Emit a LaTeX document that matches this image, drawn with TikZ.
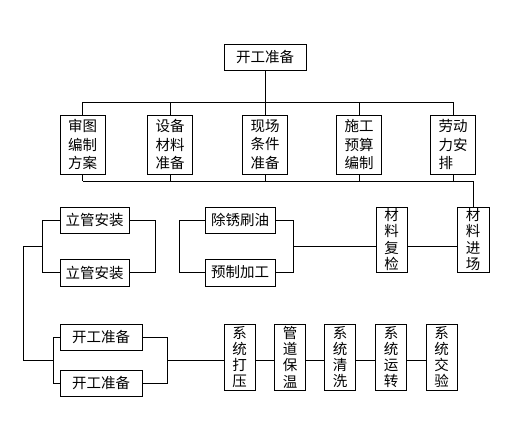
\documentclass[tikz,border=0pt]{standalone}
\usepackage{fontspec}
\newfontfamily\cjk{Noto Sans CJK SC}
\usepackage{tikz}
\usetikzlibrary{calc}
\tikzset{
	blk/.style={draw, line width=0.9pt, inner sep=0pt, align=center,
		font=\cjk\fontsize{14.5}{18.5}\selectfont},
	hbox/.style={blk, minimum height=26pt},
	tall/.style={blk, minimum width=45pt, minimum height=59pt, align=left},
	vbox/.style={blk, minimum width=31pt, minimum height=65pt,
		font=\cjk\fontsize{14.5}{16.3}\selectfont},
	ln/.style={line width=0.9pt},
}

\begin{document}
\begin{tikzpicture}[x=1pt, y=-1pt]
				\useasboundingbox (0,0) rectangle (513,428);
				% top
				\node[hbox, minimum width=82pt] at (265,57) (kg) {开工准备};
				\node[tall] at (82.5,144.5) (st) {审图\\编制\\方案};
				\node[tall] at (170,144.5) (sb) {设备\\材料\\准备};
				\node[tall] at (265,144.5) (xc) {现场\\条件\\准备};
				\node[tall] at (359,144.5) (sg) {施工\\预算\\编制};
				\node[tall] at (453,144.5) (ld) {劳动\\力安\\排};
				\coordinate (busT) at (0,102);
				\coordinate (busB) at (0,181);
				\draw[ln] (kg.south) -- (kg.south |- busT);
				\draw[ln] (st.north) -- (st.north |- busT) -- (ld.north |- busT) -- (ld.north);
				\foreach \n in {sb,xc,sg} \draw[ln] (\n.north) -- (\n.north |- busT);
				\foreach \n in {st,sb,xc,sg,ld} \draw[ln] (\n.south) -- (\n.south |- busB);
				% materials
				\node[vbox, minimum width=32pt] at (473,239.5) (jc) {材\\料\\进\\场};
				\node[vbox] at (391.5,239.5) (fj) {材\\料\\复\\检};
				\node[hbox, minimum width=70pt] at (240,220) (cx) {除锈刷油};
				\node[hbox, minimum width=70pt, minimum height=27pt] at (240,272.5) (yz) {预制加工};
				\node[hbox, minimum width=69pt] at (94.5,220) (lg1) {立管安装};
				\node[hbox, minimum width=69pt, minimum height=27pt] at (94.5,272.5) (lg2) {立管安装};
				\coordinate (mid3) at (0,246);
				\coordinate (rb3) at (293,246);
				\coordinate (lb3) at (42.7,246.7);
				\coordinate (lft) at (23.3,246.7);
				\draw[ln] (st.south |- busB) -- (jc.north |- busB) -- (jc.north);
				\draw[ln] (jc.west |- mid3) -- (fj.east |- mid3);
				\draw[ln] (fj.west |- mid3) -- (rb3);
				\draw[ln] (cx.east) -- ++(18,0) |- (yz.east);
				\draw[ln] (cx.west) -- ++(-25,0) |- (yz.west);
				\draw[ln] (lg1.east) -- ++(26,0) |- (lg2.east);
				\draw[ln] (lg1.west) -- ++(-17.3,0) |- (lg2.west);
				% system
				\node[hbox, minimum width=82pt] at (101,337) (kg1) {开工准备};
				\node[hbox, minimum width=82pt] at (101,383) (kg2) {开工准备};
				\node[vbox, minimum height=66pt] at (239.5,357) (dy) {系\\统\\打\\压};
				\node[vbox, minimum height=66pt] at (290,357) (bw) {管\\道\\保\\温};
				\node[vbox, minimum height=66pt] at (340,357) (qx) {系\\统\\清\\洗};
				\node[vbox, minimum height=66pt] at (391,357) (yx) {系\\统\\运\\转};
				\node[vbox, minimum height=66pt] at (441.5,357) (jy) {系\\统\\交\\验};
				\coordinate (mid4) at (0,360);
				\coordinate (lb4) at (54,360);
				\coordinate (rb4) at (167,360);
				\draw[ln] (kg1.east) -- ++(25,0) |- (kg2.east);
				\draw[ln] (kg1.west) -- ++(-6,0) |- (kg2.west);
				\draw[ln] (lb3) -- (lft) |- (lb4);
				\draw[ln] (rb4) -- (dy.west |- mid4);
				\draw[ln] (dy.east |- mid4) -- (bw.west |- mid4);
				\draw[ln] (bw.east |- mid4) -- (qx.west |- mid4);
				\draw[ln] (qx.east |- mid4) -- (yx.west |- mid4);
				\draw[ln] (yx.east |- mid4) -- (jy.west |- mid4);
			\end{tikzpicture}
\end{document}
